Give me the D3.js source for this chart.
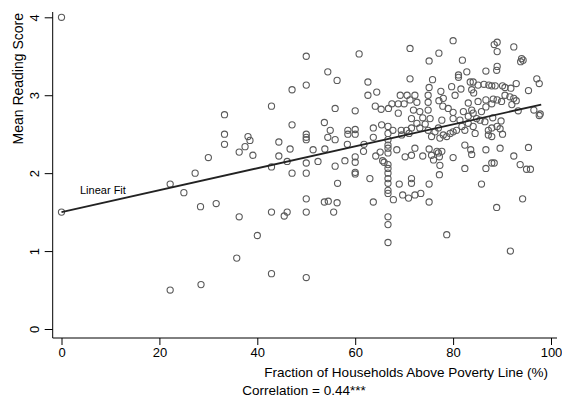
<!DOCTYPE html>
<html>
<head>
<meta charset="utf-8">
<script src="https://cdn.jsdelivr.net/npm/d3@7"></script>
<style>
  body { margin: 0; background: #fff; }
  text { font-family: "Liberation Sans", Arial, Helvetica, sans-serif; fill: #000; }
</style>
</head>
<body>
<script>
// Fraction of households above poverty line (%) for each school
var povertyFraction = [
  0, 0, 22.2, 25.0, 27.3, 28.4, 22.2, 28.5,
  50.0, 54.4, 47.1, 50.0, 42.9, 33.3, 47.1, 53.7, 54.9, 33.3, 50.0, 50.0, 54.4, 38.1, 38.5, 37.5, 36.3, 39.1,
  33.3, 44.4, 46.7, 51.4, 53.8, 30.0, 44.4, 46.1, 42.9, 50.0, 52.4, 47.1, 50.0, 31.6, 36.3, 42.9, 46.1, 45.5,
  50.0, 50.0, 53.7, 54.5, 40.0, 35.8, 42.9, 50.0,
  60.8, 56.3, 55.9, 60.0, 50.0, 55.9, 58.5, 58.5, 60.0, 60.0, 58.4, 57.9, 60.0, 60.0, 60.0, 55.9, 56.4, 56.3, 55.6,
  62.6, 71.2, 71.2, 62.6, 64.4, 64.1, 65.3, 66.8, 67.5, 69.2, 70.6, 68.8, 70.0, 68.8, 71.2,
  80.0, 77.1, 75.1, 81.9, 75.8, 81.1, 81.1, 82.8, 86.7, 83.5, 84.1, 85.1, 86.3, 87.3, 79.7, 81.6, 75.1, 72.2,
  74.9, 77.5, 80.4, 83.8, 84.2, 72.6, 74.9, 77.1, 78.0, 77.9, 71.9, 73.2, 74.9, 79.0, 80.0, 83.1, 83.8, 85.1,
  86.7, 86.7, 85.8, 82.1, 84.1,
  88.4, 89.0, 89.0, 92.4, 94.0, 94.3, 93.8, 89.0, 88.9, 97.1, 97.6, 87.9, 88.6, 90.1, 90.6, 92.9, 91.8, 95.4,
  90.6, 91.6, 92.4, 88.2, 89.0, 89.9, 92.9, 92.0, 87.9, 96.5, 97.8, 93.3,
  63.7, 63.7, 65.4,
  66.7, 66.7, 66.7, 66.7, 66.7, 66.7, 66.7, 66.7, 66.7, 66.7, 66.7, 66.7, 66.7, 66.7, 66.7, 66.7,
  67.7, 69.4, 70.5, 71.5, 69.5, 71.0, 64.2, 65.1, 65.6, 65.9, 68.5, 70.2, 60.0, 61.8, 61.7, 63.0, 69.0, 69.7,
  70.9, 67.8, 63.7,
  71.5, 72.6, 73.2, 74.3, 74.9, 75.6, 76.3, 77.0, 77.3, 78.0, 78.7, 79.4, 80.0, 80.7, 81.8, 82.4, 83.1, 84.1,
  84.5, 85.5, 86.5, 87.2, 87.2, 75.3, 77.7, 80.0, 81.4, 83.1, 84.8, 73.8,
  72.2, 71.5, 73.8, 75.1, 75.6, 76.0, 76.7, 77.0, 77.2, 77.7, 77.3, 77.2, 80.0, 82.4, 83.6, 83.8, 82.4, 86.7,
  86.7, 71.5, 71.5, 75.1, 72.2, 73.4, 75.1, 85.8,
  88.1, 89.8, 89.0, 87.9, 89.6, 90.1, 87.9, 97.6, 89.6, 95.4, 92.4, 87.9, 88.4, 93.7, 95.0, 95.8, 94.2, 88.9,
  78.7, 91.7
];

// Mean reading score for the same schools
var readingScore = [
  4.00, 1.50, 1.86, 1.75, 2.00, 1.57, 0.50, 0.57,
  3.50, 3.30, 3.07, 3.13, 2.86, 2.75, 2.62, 2.65, 2.55, 2.50, 2.50, 2.43, 2.46, 2.47, 2.42, 2.34, 2.27, 2.23,
  2.37, 2.40, 2.31, 2.30, 2.31, 2.20, 2.22, 2.15, 2.08, 2.13, 2.15, 2.00, 2.00, 1.61, 1.44, 1.50, 1.50, 1.45,
  1.67, 1.50, 1.63, 1.64, 1.20, 0.91, 0.71, 0.66,
  3.53, 3.19, 2.83, 2.80, 2.46, 2.43, 2.55, 2.50, 2.56, 2.50, 2.37, 2.16, 2.21, 2.14, 2.01, 2.09, 1.87, 1.62, 1.50,
  3.17, 3.60, 3.21, 3.00, 3.04, 2.86, 2.82, 2.83, 2.89, 3.00, 3.00, 2.89, 2.89, 2.77, 2.94,
  3.70, 3.54, 3.44, 3.45, 3.20, 3.26, 3.23, 3.30, 3.31, 3.17, 3.17, 3.13, 3.14, 3.13, 3.11, 3.08, 3.10, 3.00,
  3.00, 3.05, 3.00, 3.07, 3.03, 2.91, 2.91, 2.93, 2.96, 2.86, 2.81, 2.79, 2.81, 2.83, 2.78, 2.90, 2.81, 2.92,
  2.94, 2.85, 2.79, 2.79, 2.77,
  3.65, 3.68, 3.56, 3.62, 3.47, 3.45, 3.43, 3.37, 3.32, 3.21, 3.15, 3.12, 3.12, 3.12, 3.10, 3.15, 3.09, 3.06,
  3.00, 2.98, 2.96, 2.95, 2.94, 2.92, 2.93, 2.88, 2.89, 2.81, 2.76, 2.80,
  2.58, 2.46, 2.62,
  2.60, 2.51, 2.43, 2.36, 2.32, 2.26, 2.11, 2.06, 2.00, 1.93, 1.87, 1.78, 1.74, 1.44, 1.34, 1.11,
  2.55, 2.55, 2.55, 2.58, 2.49, 2.51, 2.22, 2.27, 2.16, 2.14, 2.30, 2.21, 1.99, 2.37, 2.28, 1.93, 1.86, 1.72,
  1.68, 1.66, 1.63,
  2.70, 2.64, 2.58, 2.63, 2.55, 2.47, 2.53, 2.58, 2.45, 2.49, 2.47, 2.51, 2.53, 2.55, 2.60, 2.55, 2.64, 2.60,
  2.51, 2.68, 2.66, 2.55, 2.49, 2.70, 2.68, 2.70, 2.68, 2.73, 2.70, 2.71,
  2.32, 2.23, 2.22, 2.31, 2.23, 2.17, 2.28, 2.26, 2.21, 2.28, 2.10, 1.98, 2.20, 2.36, 2.30, 2.24, 2.06, 2.30,
  2.06, 1.93, 1.87, 1.86, 1.72, 1.74, 1.63, 1.86,
  2.71, 2.67, 2.60, 2.58, 2.57, 2.50, 2.47, 2.74, 2.32, 2.33, 2.22, 2.13, 2.13, 2.11, 2.05, 2.05, 1.67, 1.56,
  1.21, 1.00
];

// Linear fit end points (fraction, score)
var fitFraction = [0, 98];
var fitScore = [1.5, 2.88];

var xTicks = [0, 20, 40, 60, 80, 100];
var yTicks = [0, 1, 2, 3, 4];

var w = 562;
var h = 399;
var axisX = 52.7; // position of the y axis line
var axisY = 338;  // position of the x axis line

var svg = d3.select("body").append("svg")
            .attr("width", w)
            .attr("height", h);

// set the ranges
var x = d3.scaleLinear().domain([0, 100]).range([61.5, 551]);
var y = d3.scaleLinear().domain([0, 4]).range([329, 17.3]);

var data = povertyFraction.map(function(d, i) { return {x: d, y: readingScore[i]}; });

// axis lines (they run past the tick range, Stata style)
svg.append("line")
   .attr("x1", axisX).attr("x2", axisX)
   .attr("y1", 12).attr("y2", axisY)
   .attr("stroke", "#000");
svg.append("line")
   .attr("x1", axisX).attr("x2", 557)
   .attr("y1", axisY).attr("y2", axisY)
   .attr("stroke", "#000");

// X axis
var xAxisG = svg.append("g")
   .attr("transform", "translate(0," + axisY + ")")
   .call(d3.axisBottom(x).tickValues(xTicks).tickSize(7).tickPadding(3).tickFormat(d3.format("d")));
xAxisG.select(".domain").remove();
xAxisG.selectAll("text")
   .style("font-size", "13px")
   .style("font-family", "'Liberation Sans', Arial, sans-serif");

// Y axis, labels turned sideways
var yAxisG = svg.append("g")
   .attr("transform", "translate(" + axisX + ",0)")
   .call(d3.axisLeft(y).tickValues(yTicks).tickSize(8).tickFormat(d3.format("d")));
yAxisG.select(".domain").remove();
yAxisG.selectAll(".tick text")
   .attr("x", null).attr("y", null).attr("dy", null)
   .attr("transform", "translate(-14,0) rotate(-90)")
   .style("text-anchor", "middle")
   .style("font-size", "13px")
   .style("font-family", "'Liberation Sans', Arial, sans-serif");

// Add the scatterplot points
svg.selectAll("circle.pt")
   .data(data)
   .enter()
   .append("circle")
   .attr("class", "pt")
   .attr("r", 3.1)
   .attr("cx", function(d) { return x(d.x); })
   .attr("cy", function(d) { return y(d.y); })
   .attr("fill", "none")
   .attr("stroke", "#5a5a5a")
   .attr("stroke-width", 1.1);

// fitted line
svg.append("line")
   .attr("x1", x(fitFraction[0])).attr("y1", y(fitScore[0]))
   .attr("x2", x(fitFraction[1])).attr("y2", y(fitScore[1]))
   .attr("stroke", "#222")
   .attr("stroke-width", 1.8);

svg.append("text")
   .attr("x", 80)
   .attr("y", 194)
   .style("font-size", "11px")
   .text("Linear Fit");

// Add text labels
svg.append("text")
   .attr("transform", "translate(23,13) rotate(-90)")
   .style("text-anchor", "end")
   .style("font-size", "14px")
   .text("Mean Reading Score");

svg.append("text")
   .attr("x", 548)
   .attr("y", 377)
   .style("text-anchor", "end")
   .style("font-size", "13.5px")
   .text("Fraction of Households Above Poverty Line (%)");

svg.append("text")
   .attr("x", 304)
   .attr("y", 395)
   .style("text-anchor", "middle")
   .style("font-size", "13.5px")
   .text("Correlation = 0.44***");
</script>
</body>
</html>
